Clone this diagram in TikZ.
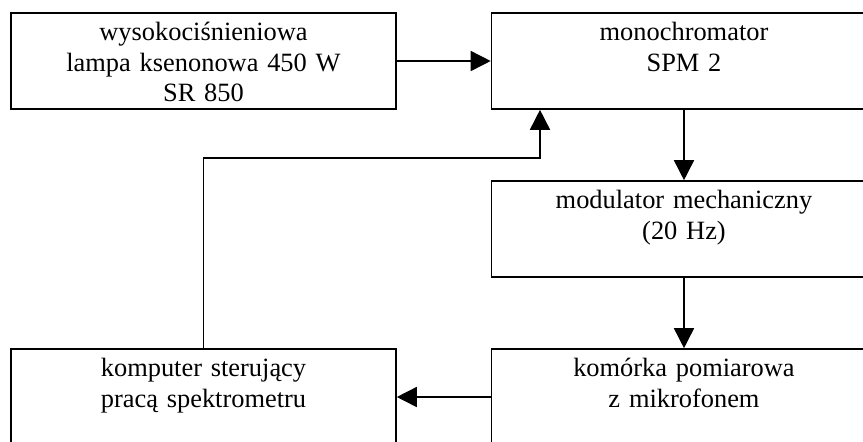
\documentclass[tikz,border=0pt]{standalone}
\usepackage{fontspec}
\setmainfont{Liberation Serif}
\usetikzlibrary{arrows.meta,positioning,calc}

\begin{document}
\begin{tikzpicture}[>={Triangle[length=10pt,width=10pt]},node distance=84pt,on grid,
    box/.style={draw,line width=0.8pt,text width=192.5pt,align=center,
      inner xsep=0pt,inner ysep=0pt,text height=13.75pt,text depth=34.25pt,
      font=\fontsize{13.2}{15.25}\selectfont}]
% page frame: the right and the bottom boxes run past it
  \useasboundingbox (-101.75pt,30.5pt) rectangle (329.75pt,-190pt);
  \clip (-101.75pt,30.5pt) rectangle (329.75pt,-190pt);

  \node[box]  (lampa)                               {wysokociśnieniowa\\lampa ksenonowa 450 W\\SR 850};
  \node[box]  (mono)      [right=240.25pt of lampa]  {monochromator\\SPM 2};
  \node[box]  (modul)     [below=of mono]            {modulator mechaniczny\\(20 Hz)};
  \node[box]  (komorka)   [below=of modul]           {komórka pomiarowa\\z mikrofonem};
  \node[box]  (komputer)  [left=240.25pt of komorka] {komputer sterujący\\pracą spektrometru};

% feedback enters the monochromator left of its centre
  \coordinate (wejscie) at ($(mono.south)+(-72pt,0)$);

  \path[->,line width=0.8pt]
    (lampa)     edge    (mono)
    (mono)      edge    (modul)
    (modul)     edge    (komorka)
    (komorka)   edge    (komputer);
  \draw[->,line width=0.8pt] (komputer.north) |- ([yshift=-24pt]wejscie) -- (wejscie);
\end{tikzpicture}
\end{document}
